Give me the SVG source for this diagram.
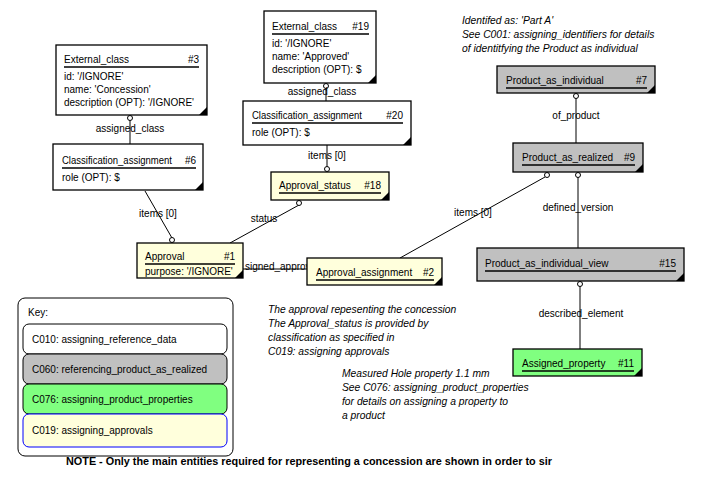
<svg xmlns="http://www.w3.org/2000/svg" width="718" height="493" viewBox="0 0 718 493">
<style>
text{font-family:"Liberation Sans",Arial,sans-serif;font-size:10px;fill:#000}
.box{stroke:#000;stroke-width:1.3}
.w{fill:#fff}.g{fill:#c0c0c0}.gr{fill:#80ff80}.y{fill:#ffffdc}
.ul{stroke:#000;stroke-width:1.6}
.tri{fill:#000}
.con line,.con polyline{stroke:#000;stroke-width:1;fill:none}
.con circle{fill:#fff;stroke:#000;stroke-width:1}
.it{font-style:italic;font-size:10.3px}
.r{text-anchor:end}.m{text-anchor:middle}
</style>
<rect width="718" height="493" fill="#fff"/>

<g id="connectors" class="con">
<line x1="130" y1="118" x2="130" y2="144"/><circle cx="130" cy="118" r="2.5"/>
<line x1="145" y1="191" x2="172" y2="238"/><circle cx="172" cy="240" r="2.5"/>
<line x1="326" y1="86" x2="326" y2="101"/><circle cx="326" cy="86" r="2.5"/>
<line x1="327" y1="145" x2="327" y2="167"/><circle cx="327" cy="169" r="2.5"/>
<line x1="299" y1="205" x2="230" y2="243"/><circle cx="299" cy="203" r="2.5"/>
<line x1="243" y1="269" x2="307" y2="269"/>
<line x1="400" y1="258" x2="545" y2="177"/><circle cx="547" cy="175" r="2.5"/>
<line x1="576" y1="98" x2="576" y2="143"/><circle cx="576" cy="96" r="2.5"/>
<line x1="578" y1="177" x2="578" y2="248"/><circle cx="578" cy="175" r="2.5"/>
<line x1="580" y1="286" x2="580" y2="349"/><circle cx="580" cy="284" r="2.5"/>
<text x="130" y="132" class="m">assigned_class</text>
<text x="158" y="217" class="m">items [0]</text>
<text x="322" y="95" class="m">assigned_class</text>
<text x="327" y="159" class="m">items [0]</text>
<text x="264" y="222" class="m">status</text>
<text x="245" y="270">signed_approv</text>
<text x="473" y="216" class="m">items [0]</text>
<text x="576" y="119" class="m">of_product</text>
<text x="578" y="211" class="m">defined_version</text>
<text x="581" y="317" class="m">described_element</text>
</g>

<g id="n3">
<rect class="box w" x="56" y="45" width="151" height="70"/>
<text x="64" y="63">External_class</text><text x="199" y="63" class="r">#3</text>
<line class="ul" x1="64" y1="67" x2="199" y2="67"/>
<text x="64" y="80">id: '/IGNORE'</text>
<text x="64" y="93">name: 'Concession'</text>
<text x="64" y="106">description (OPT): '/IGNORE'</text>
<polygon class="tri" points="207,107 207,115 199,115"/>
</g>

<g id="n19">
<rect class="box w" x="264" y="11" width="112" height="72"/>
<text x="272" y="30">External_class</text><text x="369" y="30" class="r">#19</text>
<line class="ul" x1="272" y1="34" x2="369" y2="34"/>
<text x="272" y="47">id: '/IGNORE'</text>
<text x="272" y="60">name: 'Approved'</text>
<text x="272" y="73">description (OPT): $</text>
<polygon class="tri" points="376,75 376,83 368,83"/>
</g>

<g id="n6">
<rect class="box w" x="53" y="144" width="150" height="46"/>
<text x="62" y="164" textLength="110" lengthAdjust="spacingAndGlyphs">Classification_assignment</text><text x="196" y="164" class="r">#6</text>
<line class="ul" x1="62" y1="168" x2="196" y2="168"/>
<text x="62" y="181">role (OPT): $</text>
<polygon class="tri" points="203,182 203,190 195,190"/>
</g>

<g id="n20">
<rect class="box w" x="243" y="101" width="168" height="44"/>
<text x="252" y="119" textLength="110" lengthAdjust="spacingAndGlyphs">Classification_assignment</text><text x="403" y="119" class="r">#20</text>
<line class="ul" x1="252" y1="123" x2="403" y2="123"/>
<text x="252" y="136">role (OPT): $</text>
<polygon class="tri" points="411,137 411,145 403,145"/>
</g>

<g id="n18">
<rect class="box y" x="271" y="172" width="118" height="28"/>
<text x="279" y="189">Approval_status</text><text x="381" y="189" class="r">#18</text>
<line class="ul" x1="279" y1="193" x2="381" y2="193"/>
<polygon class="tri" points="389,192 389,200 381,200"/>
</g>

<g id="n1">
<rect class="box y" x="137" y="243" width="106" height="35"/>
<text x="145" y="260">Approval</text><text x="235" y="260" class="r">#1</text>
<line class="ul" x1="145" y1="264" x2="235" y2="264"/>
<text x="145" y="275">purpose: '/IGNORE'</text>
<polygon class="tri" points="243,270 243,278 235,278"/>
</g>

<g id="n2">
<rect class="box y" x="307" y="258" width="135" height="27"/>
<text x="316" y="276">Approval_assignment</text><text x="434" y="276" class="r">#2</text>
<line class="ul" x1="316" y1="280" x2="434" y2="280"/>
<polygon class="tri" points="442,277 442,285 434,285"/>
</g>

<g id="n7">
<rect class="box g" x="497" y="66" width="158" height="27"/>
<text x="506" y="84">Product_as_individual</text><text x="647" y="84" class="r">#7</text>
<line class="ul" x1="506" y1="88" x2="647" y2="88"/>
<polygon class="tri" points="655,85 655,93 647,93"/>
</g>

<g id="n9">
<rect class="box g" x="513" y="143" width="130" height="29"/>
<text x="522" y="161">Product_as_realized</text><text x="635" y="161" class="r">#9</text>
<line class="ul" x1="522" y1="165" x2="635" y2="165"/>
<polygon class="tri" points="643,164 643,172 635,172"/>
</g>

<g id="n15">
<rect class="box g" x="477" y="248" width="207" height="33"/>
<text x="485" y="267">Product_as_individual_view</text><text x="676" y="267" class="r">#15</text>
<line class="ul" x1="485" y1="271" x2="676" y2="271"/>
<polygon class="tri" points="684,273 684,281 676,281"/>
</g>

<g id="n11">
<rect class="box gr" x="513" y="349" width="129" height="27"/>
<text x="522" y="367">Assigned_property</text><text x="634" y="367" class="r">#11</text>
<line class="ul" x1="522" y1="371" x2="634" y2="371"/>
<polygon class="tri" points="642,368 642,376 634,376"/>
</g>

<g id="key">
<rect x="18" y="298" width="215" height="158" rx="7" fill="#fff" stroke="#000" stroke-width="1"/>
<text x="28" y="316">Key:</text>
<rect x="23" y="324" width="204" height="30" rx="6" fill="#fff" stroke="#000"/>
<text x="32" y="343">C010: assigning_reference_data</text>
<rect x="23" y="354" width="204" height="30" rx="6" fill="#c0c0c0" stroke="#000"/>
<text x="32" y="373">C060: referencing_product_as_realized</text>
<rect x="23" y="384" width="204" height="30" rx="6" fill="#80ff80" stroke="#000"/>
<text x="32" y="403">C076: assigning_product_properties</text>
<rect x="23" y="414" width="204" height="33" rx="6" fill="#ffffdc" stroke="#0000ff"/>
<text x="32" y="434">C019: assigning_approvals</text>
</g>

<g id="notes">
<text class="it" x="462" y="24">Identifed as: 'Part A'</text>
<text class="it" x="462" y="38">See C001: assigning_identifiers for details</text>
<text class="it" x="462" y="52">of identitfying the Product as individual</text>
<text class="it" x="268" y="313">The approval repesenting the concession</text>
<text class="it" x="268" y="327">The Approval_status is provided by</text>
<text class="it" x="268" y="341">classification as specified in</text>
<text class="it" x="268" y="355">C019: assigning  approvals</text>
<text class="it" x="342" y="377">Measured Hole property 1.1 mm</text>
<text class="it" x="342" y="391">See C076: assigning_product_properties</text>
<text class="it" x="342" y="405">for details on assigning a property to</text>
<text class="it" x="342" y="419">a product</text>
<text x="66" y="465" font-weight="bold" font-size="10.5" textLength="486" lengthAdjust="spacingAndGlyphs">NOTE - Only the main entities required for representing a concession are shown in order to sir</text>
</g>
</svg>
